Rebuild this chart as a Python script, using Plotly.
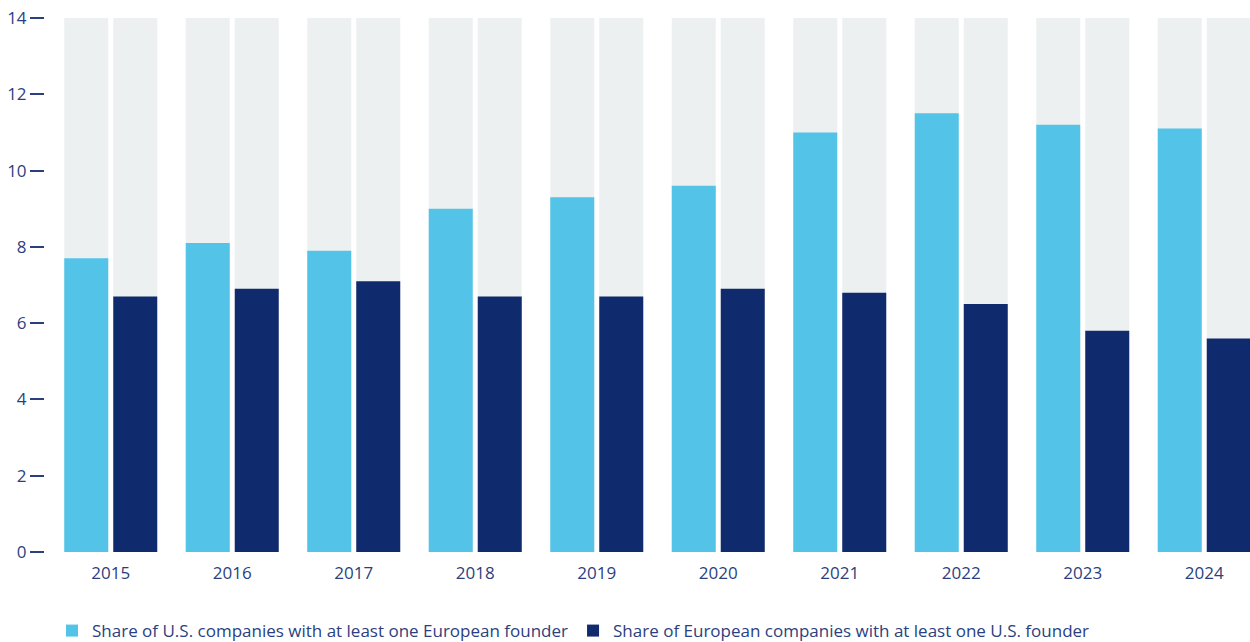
import plotly.graph_objects as go

years = ["2015", "2016", "2017", "2018", "2019", "2020", "2021", "2022", "2023", "2024"]
us_with_eu_founder = [7.7, 8.1, 7.9, 9.0, 9.3, 9.6, 11.0, 11.5, 11.2, 11.1]
eu_with_us_founder = [6.7, 6.9, 7.1, 6.7, 6.7, 6.9, 6.8, 6.5, 5.8, 5.6]
track_max = [14] * len(years)
y_ticks = [0, 2, 4, 6, 8, 10, 12, 14]

LIGHT = "#53C4E8"
DARK = "#0F2B6D"
GREY = "#ECF0F1"
TEXT = "#2B3F80"
FONT = "'Open Sans', Lato, sans-serif"
FS = 17

W, H = 1250, 642
cat_px = 121.5
bar_w = 44 / cat_px
off_light = -46.5 / cat_px
off_dark = 2.5 / cat_px

fig = go.Figure()
for off in (off_light, off_dark):
    fig.add_trace(go.Bar(x=years, y=track_max, width=bar_w, offset=off,
                         marker=dict(color=GREY, line=dict(width=0)),
                         showlegend=False, hoverinfo="skip"))
fig.add_trace(go.Bar(x=years, y=us_with_eu_founder, width=bar_w, offset=off_light,
                     name="Share of U.S. companies with at least one European founder",
                     marker=dict(color=LIGHT, line=dict(width=0))))
fig.add_trace(go.Bar(x=years, y=eu_with_us_founder, width=bar_w, offset=off_dark,
                     name="Share of European companies with at least one U.S. founder",
                     marker=dict(color=DARK, line=dict(width=0))))

plot_left = 50
plot_w = W - plot_left
fig.update_layout(
    width=W, height=H,
    barmode="overlay",
    margin=dict(l=0, r=0, t=18, b=90, autoexpand=False),
    paper_bgcolor="white", plot_bgcolor="white",
    font=dict(family=FONT, size=FS, color=TEXT),
    xaxis=dict(domain=[plot_left / W, 1], type="category", automargin=False,
               range=[-0.5, -0.5 + plot_w / cat_px],
               showgrid=False, zeroline=False, showline=False,
               ticks="outside", ticklen=6, tickcolor="rgba(0,0,0,0)",
               tickfont=dict(size=FS, color=TEXT)),
    yaxis=dict(range=[0, 14], tickvals=y_ticks, anchor="free", position=44 / W,
               automargin=False,
               showgrid=False, zeroline=False, showline=False,
               ticks="outside", ticklen=14, tickwidth=1.5, tickcolor=TEXT,
               tickfont=dict(size=FS, color=TEXT)),
    legend=dict(orientation="h", x=52 / W, xanchor="left", y=-0.148, yanchor="middle",
                font=dict(size=FS, color=TEXT), traceorder="normal",
                bgcolor="rgba(0,0,0,0)",
                itemclick=False, itemdoubleclick=False),
    showlegend=True,
)

fig.write_html("out.html", config={"displayModeBar": False},
               post_script="document.body.style.margin='0';document.body.style.padding='0';")
